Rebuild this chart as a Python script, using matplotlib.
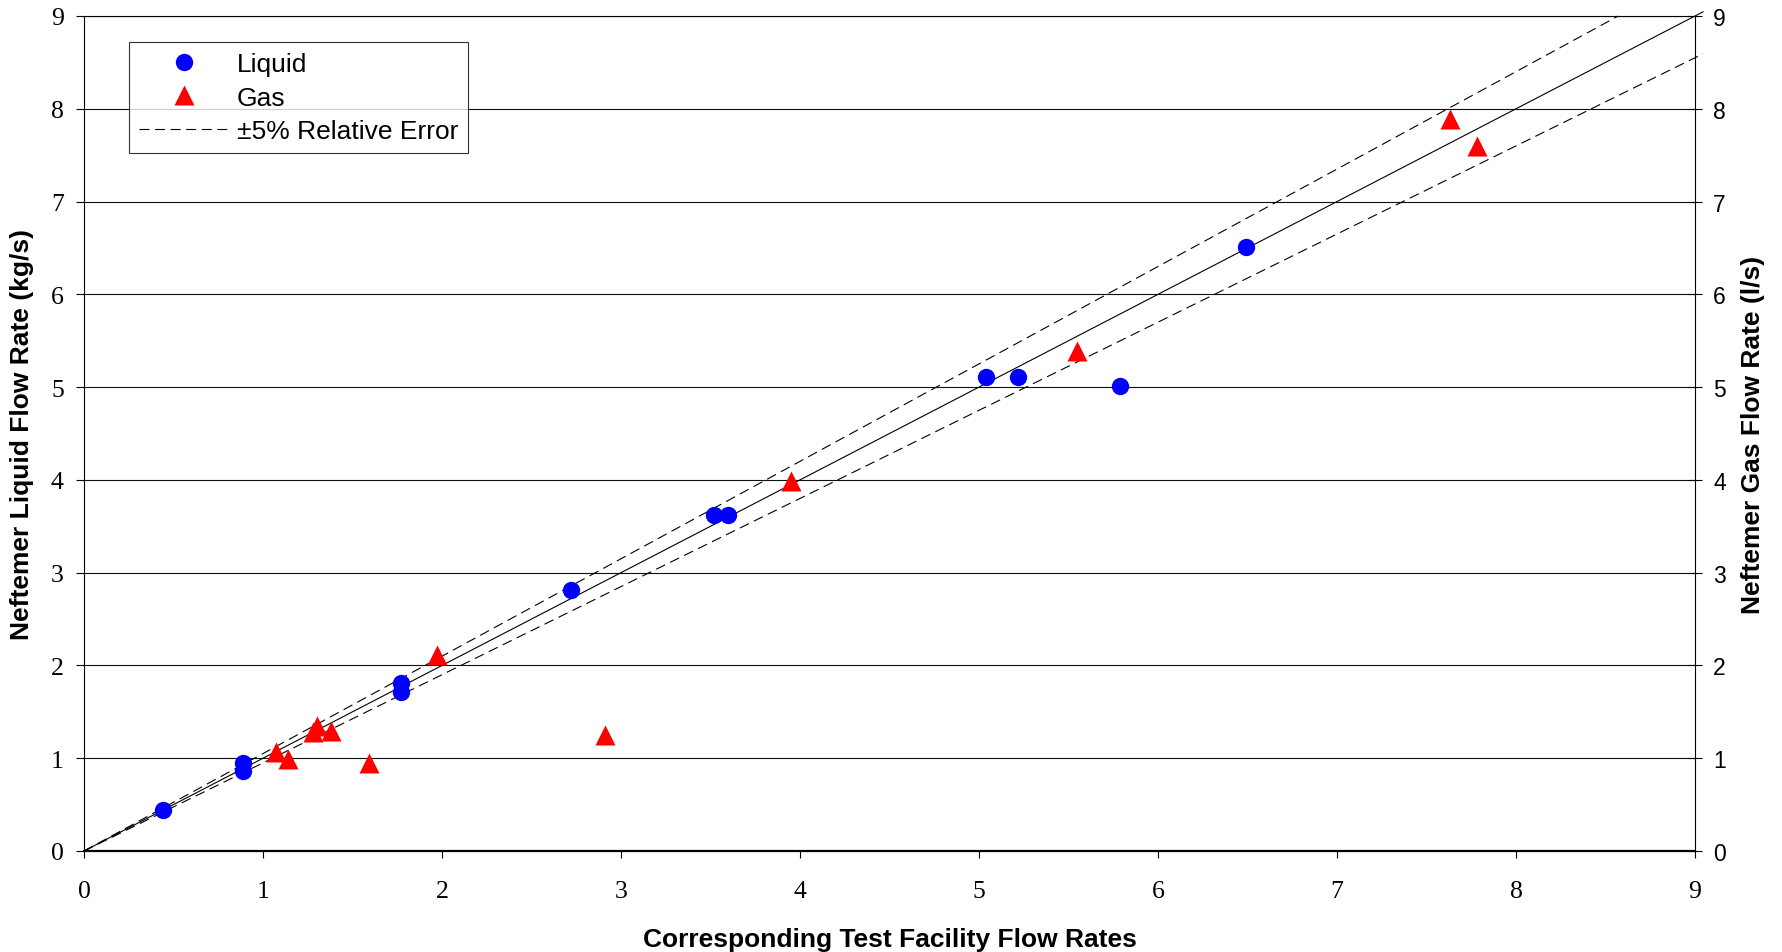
import matplotlib.pyplot as plt
import numpy as np

# Neftemer vs test facility readings
liquid_ref = [0.44, 0.89, 0.89, 1.77, 1.77, 2.72, 3.52, 3.60, 5.04, 5.22, 5.79, 6.49]
liquid_meas = [0.44, 0.95, 0.86, 1.81, 1.71, 2.81, 3.62, 3.62, 5.11, 5.11, 5.01, 6.51]

gas_ref = [1.07, 1.14, 1.30, 1.28, 1.38, 1.59, 1.97, 2.91, 3.95, 5.55, 7.63, 7.78]
gas_meas = [1.07, 0.99, 1.35, 1.28, 1.29, 0.95, 2.11, 1.25, 3.99, 5.39, 7.89, 7.60]

rel_err = 0.05
axis_max = 9
ticks = list(range(0, 10))

fig = plt.figure(figsize=(17.82, 9.53), dpi=100)
ax = fig.add_axes([84 / 1782, 1 - 852 / 953, (1695 - 84) / 1782, (852 - 17) / 953])

# grid lines
for t in ticks[1:]:
    ax.axhline(t, color='#111111', lw=0.8, zorder=1)

# 1:1 and +/-5% lines
x_end = axis_max * 1.005
ax.plot([0, x_end], [0, x_end], color='black', lw=0.8, clip_on=False, zorder=2)
xu = axis_max / (1 + rel_err)
err_line, = ax.plot([0, xu], [0, xu * (1 + rel_err)], color='black', lw=0.8,
                    dashes=(9, 5), clip_on=False, zorder=2)
ax.plot([0, x_end], [0, x_end * (1 - rel_err)], color='black', lw=0.8,
        dashes=(9, 5), clip_on=False, zorder=2)

liq, = ax.plot(liquid_ref, liquid_meas, 'o', color='#0000FF', ms=12.5, mec='none', zorder=4)
gas, = ax.plot(gas_ref, gas_meas, '^', color='#FF0000', ms=14, mec='none', zorder=4)

ax.set_xlim(0, axis_max)
ax.set_ylim(0, axis_max)
ax.set_xticks(ticks)
ax.set_yticks(ticks)

serif = 'Liberation Serif'
sans = 'Liberation Sans'
ax.tick_params(axis='x', direction='out', length=5, width=0.8, pad=16, labelsize=18.5)
ax.tick_params(axis='y', direction='out', length=5.5, width=0.8, pad=9, labelsize=18.5)
for lab in ax.get_xticklabels() + ax.get_yticklabels():
    lab.set_family(serif)

for side in ['left', 'right', 'top']:
    ax.spines[side].set_linewidth(0.8)
ax.spines['bottom'].set_linewidth(1.6)

ax.set_xlabel('Corresponding Test Facility Flow Rates', family=sans, weight='bold',
              fontsize=19, labelpad=18)
ax.set_ylabel('Neftemer Liquid Flow Rate (kg/s)', family=sans, weight='bold',
              fontsize=19, labelpad=12)

ax2 = ax.twinx()
ax2.set_ylim(0, axis_max)
ax2.set_yticks(ticks)
ax2.tick_params(axis='y', direction='inout', length=10, width=0.8, pad=8, labelsize=16.5)
for lab in ax2.get_yticklabels():
    lab.set_family(sans)
for side in ['left', 'right', 'top', 'bottom']:
    ax2.spines[side].set_visible(False)
ax2.set_ylabel('Neftemer Gas Flow Rate (l/s)', family=sans, weight='bold',
               fontsize=19, labelpad=11)

leg = ax.legend(handles=[liq, gas, err_line], labels=['Liquid', 'Gas', '±5% Relative Error'],
                loc='upper left', bbox_to_anchor=(129 / 1782, 1 - 43 / 953),
                bbox_transform=fig.transFigure, borderaxespad=0,
                prop={'family': sans, 'size': 19}, frameon=True, fancybox=False,
                handlelength=3.4, handletextpad=0.3, labelspacing=0.36,
                borderpad=0.38, numpoints=1)
leg.get_frame().set_edgecolor('black')
leg.get_frame().set_linewidth(0.8)
leg.set_zorder(10)

fig.savefig('out.png', dpi=100, facecolor='white')
